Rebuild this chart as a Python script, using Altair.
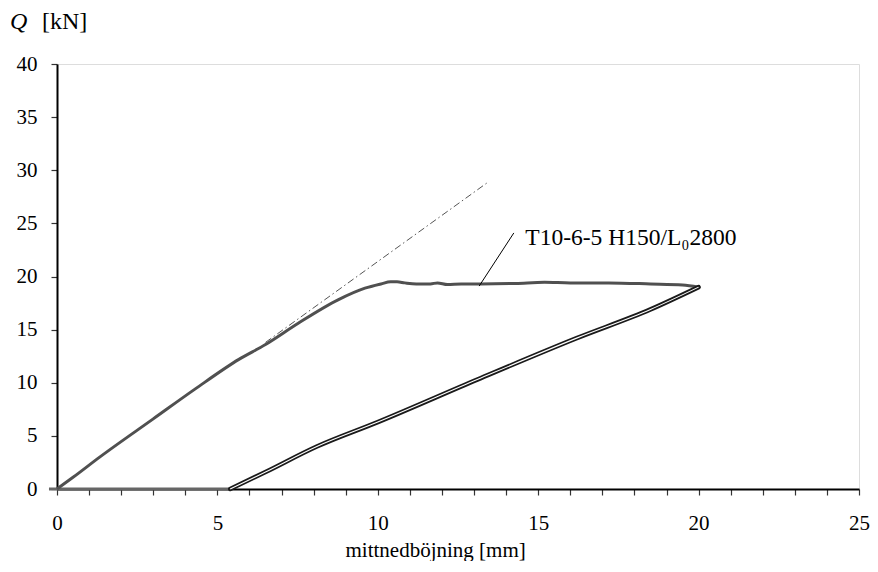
import altair as alt
import pandas as pd

# Loading curve (deflection mm, load kN)
load_x = [0.0, 0.5, 1.33, 3.0, 4.3, 5.67, 6.5, 7.52, 8.76, 9.6, 10.1, 10.4, 10.6, 10.84, 11.2, 11.64, 11.86, 12.17, 12.6, 13.2, 14.3, 15.2, 16.0, 17.2, 18.5, 19.5, 20.0]
load_y = [0.0, 1.1, 3.0, 6.6, 9.4, 12.2, 13.6, 15.6, 17.8, 18.9, 19.3, 19.5, 19.5, 19.4, 19.3, 19.3, 19.4, 19.25, 19.3, 19.3, 19.35, 19.45, 19.4, 19.4, 19.3, 19.2, 19.0]

# Unloading / reloading branch
unl_x = [20.0, 18.5, 16.2, 13.1, 10.0, 8.1, 6.5, 5.4]
unl_y = [19.0, 16.9, 14.2, 10.3, 6.3, 4.0, 1.6, 0.0]

# Residual zero-load segment
zero_x = [5.4, -0.25]
zero_y = [0.0, 0.0]

# Initial-stiffness reference line (dash-dot)
ref_x = [6.5, 13.4]
ref_y = [13.8, 28.8]

# Label leader line and label
lead_x = [13.16, 14.24]
lead_y = [19.1, 24.1]
label_x = [14.6]
label_y = [23.6]
label_text = ["T10-6-5 H150/L\u20802800"]

x_ticks = list(range(0, 26))
y_ticks = list(range(0, 41, 5))

FONT = "Liberation Serif"
W, H = 802, 425

xs = alt.Scale(domain=[0, 25], nice=False, zero=False)
ys = alt.Scale(domain=[0, 40], nice=False, zero=False)

xax = alt.Axis(values=x_ticks, labelExpr="datum.value % 5 == 0 ? datum.label : ''",
               title="mittnedböjning [mm]", titleFont=FONT, titleFontSize=21,
               titleFontWeight="normal", titleColor="black", titlePadding=6,
               titleAnchor="start", titleAlign="left", titleX=288,
               labelFont=FONT, labelFontSize=21, labelColor="black", labelPadding=17,
               tickSize=6, tickColor="#333", tickWidth=1.2,
               domainColor="black", domainWidth=2, grid=False, labelFlush=False)
yax = alt.Axis(values=y_ticks, title=None, labelFont=FONT, labelFontSize=21,
               labelColor="black", labelPadding=14, tickSize=6, tickColor="#333",
               tickWidth=1.2, domainColor="black", domainWidth=2, grid=False)

df_load = pd.DataFrame({"x": load_x, "y": load_y, "o": range(len(load_x))})
df_unl = pd.DataFrame({"x": unl_x, "y": unl_y, "o": range(len(unl_x))})
df_zero = pd.DataFrame({"x": zero_x, "y": zero_y, "o": range(len(zero_x))})
df_ref = pd.DataFrame({"x": ref_x, "y": ref_y, "o": range(len(ref_x))})
df_lead = pd.DataFrame({"x": [lead_x[0]], "y": [lead_y[0]], "x2": [lead_x[1]], "y2": [lead_y[1]]})
df_lab = pd.DataFrame({"x": label_x, "y": label_y, "t": label_text})

base_enc = dict(x=alt.X("x:Q", scale=xs, axis=xax), y=alt.Y("y:Q", scale=ys, axis=yax), order="o:Q")

zero_line = alt.Chart(df_zero).mark_line(color="#666", strokeWidth=3).encode(**base_enc)
load_line = alt.Chart(df_load).mark_line(color="#505050", strokeWidth=3, strokeJoin="round",
                                         interpolate="monotone").encode(**base_enc)
unl_outer = alt.Chart(df_unl).mark_line(color="#1a1a1a", strokeWidth=4.5, strokeJoin="round", strokeCap="round",
                                        interpolate="monotone").encode(**base_enc)
unl_inner = alt.Chart(df_unl).mark_line(color="white", strokeWidth=1.1, strokeJoin="round",
                                        interpolate="monotone").encode(**base_enc)
ref_line = alt.Chart(df_ref).mark_line(color="#555", strokeWidth=1, strokeDash=[7, 3, 1.5, 3]).encode(**base_enc)
lead = alt.Chart(df_lead).mark_rule(color="black", strokeWidth=1).encode(
    x=alt.X("x:Q", scale=xs, axis=xax), y=alt.Y("y:Q", scale=ys, axis=yax), x2="x2:Q", y2="y2:Q")
lab = alt.Chart(df_lab).mark_text(align="left", baseline="middle", font=FONT, fontSize=23.5, color="black").encode(
    x=alt.X("x:Q", scale=xs, axis=xax), y=alt.Y("y:Q", scale=ys, axis=yax), text="t:N")

q_lab = alt.Chart(pd.DataFrame({"t": ["Q"]})).mark_text(
    align="left", baseline="middle", font=FONT, fontSize=24, fontStyle="italic", color="black"
).encode(x=alt.value(-47), y=alt.value(-42), text="t:N")
kn_lab = alt.Chart(pd.DataFrame({"t": ["[kN]"]})).mark_text(
    align="left", baseline="middle", font=FONT, fontSize=24, color="black"
).encode(x=alt.value(-15), y=alt.value(-42), text="t:N")

chart = alt.layer(zero_line, load_line, unl_outer, unl_inner, ref_line, lead, lab, q_lab, kn_lab).properties(
    width=W, height=H,
    autosize=alt.AutoSizeParams(type="none"),
    padding={"left": 49, "top": 56, "right": 11, "bottom": 72},
).configure_view(stroke="black", strokeWidth=1.5).configure(background="white")

chart.save("out.html", embed_options={"renderer": "svg", "actions": False})
